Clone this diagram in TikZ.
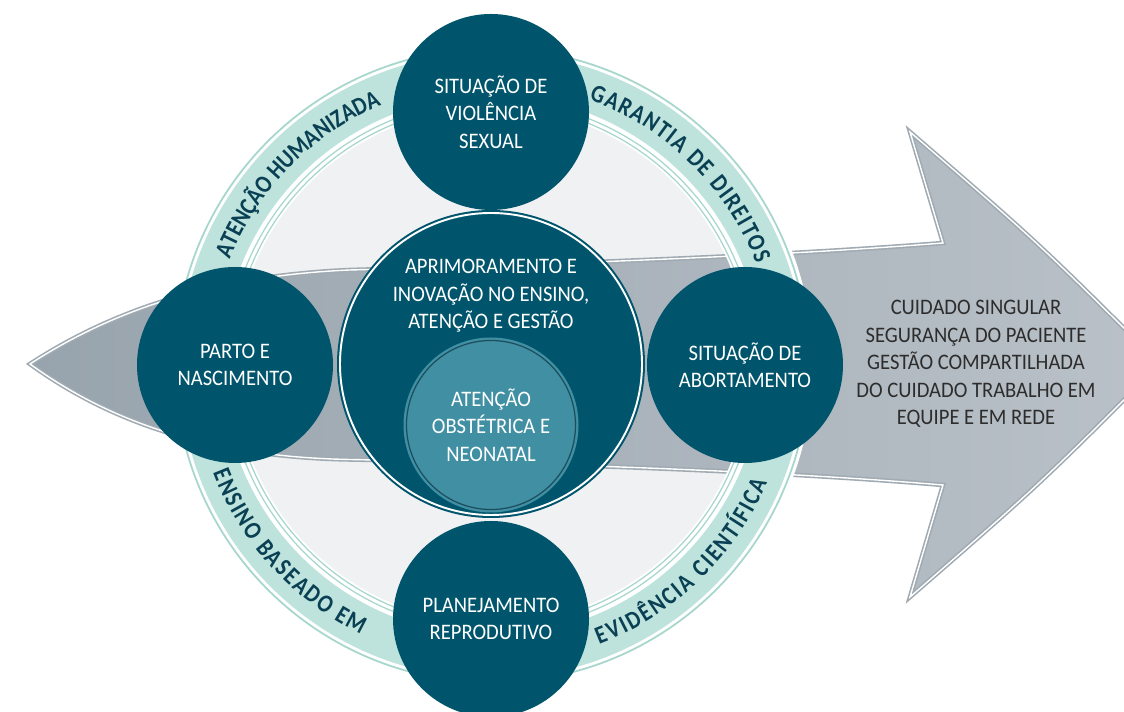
\documentclass[tikz,border=0pt]{standalone}
\usepackage{fontspec}
\setmainfont{Carlito}
\newfontfamily\circfont[FakeStretch=0.93]{Carlito}
\newfontfamily\ringfont[FakeStretch=0.86]{Carlito}
\usetikzlibrary{decorations.text}
\definecolor{petrol}{RGB}{0,85,108}
\definecolor{petrolhell}{RGB}{64,143,163}
\definecolor{petrolline}{RGB}{28,78,94}
\definecolor{mint}{RGB}{189,227,220}
\definecolor{mintline}{RGB}{166,214,204}
\definecolor{scheibe}{RGB}{240,241,243}
\definecolor{pfeillinks}{RGB}{152,164,173}
\definecolor{pfeilrechts}{RGB}{186,193,200}
\definecolor{pfeilrand}{RGB}{160,170,178}
\definecolor{ringtext}{RGB}{10,64,84}
\definecolor{grautext}{RGB}{45,45,45}

\begin{document}
\begin{tikzpicture}[
	kreis/.style={circle, fill=petrol, minimum size=3.92cm, inner sep=0pt, text=white, align=center, font=\circfont\fontsize{12.6}{15.6}\selectfont},
	kreistext/.style={text=white, align=center, font=\circfont\fontsize{12.6}{15.6}\selectfont},
	ringschrift/.style={ringtext, decorate, decoration={text along path, text align=fit to path, text={|\ringfont\bfseries\fontsize{14.3}{16}\selectfont\color{ringtext}|#1}}}
	]
	\useasboundingbox (0,0) rectangle (22.48,14.24);
	\coordinate (c) at (9.84,6.93);
	
	% helle Scheibe
	\fill[scheibe] (c) circle (5.16);
	
	% Pfeil
	\shade[left color=pfeillinks, right color=pfeilrechts, draw=pfeilrand, line width=2.6pt, line join=miter, postaction={draw=white, line width=0.8pt}]
		(0.6,6.96) .. controls (2.2,8.0) and (4.2,8.72) .. (7.0,8.84)
		.. controls (12,8.98) and (16,9.15) .. (18.86,9.38) -- (18.2,11.6)
		.. controls (20.78,9.37) .. (23.2,6.96)
		.. controls (20.78,4.54) .. (18.2,2.30) -- (18.86,4.54)
		.. controls (16,4.78) and (12,4.95) .. (7.0,5.05)
		.. controls (4.2,5.1) and (2.2,5.8) .. cycle;
	
	% Ring
	\fill[white, even odd rule] (c) circle (6.42) (c) circle (5.16);
	\fill[mint, even odd rule] (c) circle (6.26) (c) circle (5.40);
	\draw[mintline, line width=1pt] (c) circle (6.34);
	\foreach \r in {5.30, 5.21}{
		\draw[mintline, line width=0.7pt] (c) circle (\r);
	}
	
	% Ringtexte
	\path[ringschrift={ATENÇÃO HUMANIZADA}] ([shift={(158:5.66)}]c) arc[start angle=158, end angle=113, radius=5.66];
	\path[ringschrift={GARANTIA DE DIREITOS}] ([shift={(70:5.66)}]c) arc[start angle=70, end angle=21, radius=5.66];
	\path[ringschrift={ENSINO BASEADO EM}] ([shift={(201:5.98)}]c) arc[start angle=201, end angle=244, radius=5.98];
	\path[ringschrift={EVIDÊNCIA CIENTÍFICA}] ([shift={(291:5.98)}]c) arc[start angle=291, end angle=337, radius=5.98];
	
	% Kreise
	\node[kreis] (oben) at (9.82,12.0) {SITUAÇÃO DE\\VIOLÊNCIA\\SEXUAL};
	\node[kreis] (links) at (4.70,6.94) {PARTO E\\NASCIMENTO};
	\node[kreis] (rechts) at (14.90,6.94) {SITUAÇÃO DE\\ABORTAMENTO};
	\node[kreis] (unten) at (9.82,1.86) {PLANEJAMENTO\\REPRODUTIVO};
	
	\node[kreis, minimum size=6.16cm] (mitte) at (9.82,6.96) {};
	\draw[white, line width=1.1pt] (mitte.center) circle (3.02);
	\node[kreistext] (mittetext) at (9.82,8.32) {APRIMORAMENTO E\\INOVAÇÃO NO ENSINO,\\ATENÇÃO E GESTÃO};
	
	\node[kreis, fill=petrolhell, minimum size=3.5cm] (innen) at (9.82,5.74) {ATENÇÃO\\OBSTÉTRICA E\\NEONATAL};
	\draw[petrolline, line width=0.7pt] (innen.center) circle (1.69);
	
	% Text im Pfeil
	\node[kreistext, text=grautext] (ziel) at (19.52,6.96) {CUIDADO SINGULAR\\SEGURANÇA DO PACIENTE\\GESTÃO COMPARTILHADA\\DO CUIDADO TRABALHO EM\\EQUIPE E EM REDE};
\end{tikzpicture}
\end{document}
